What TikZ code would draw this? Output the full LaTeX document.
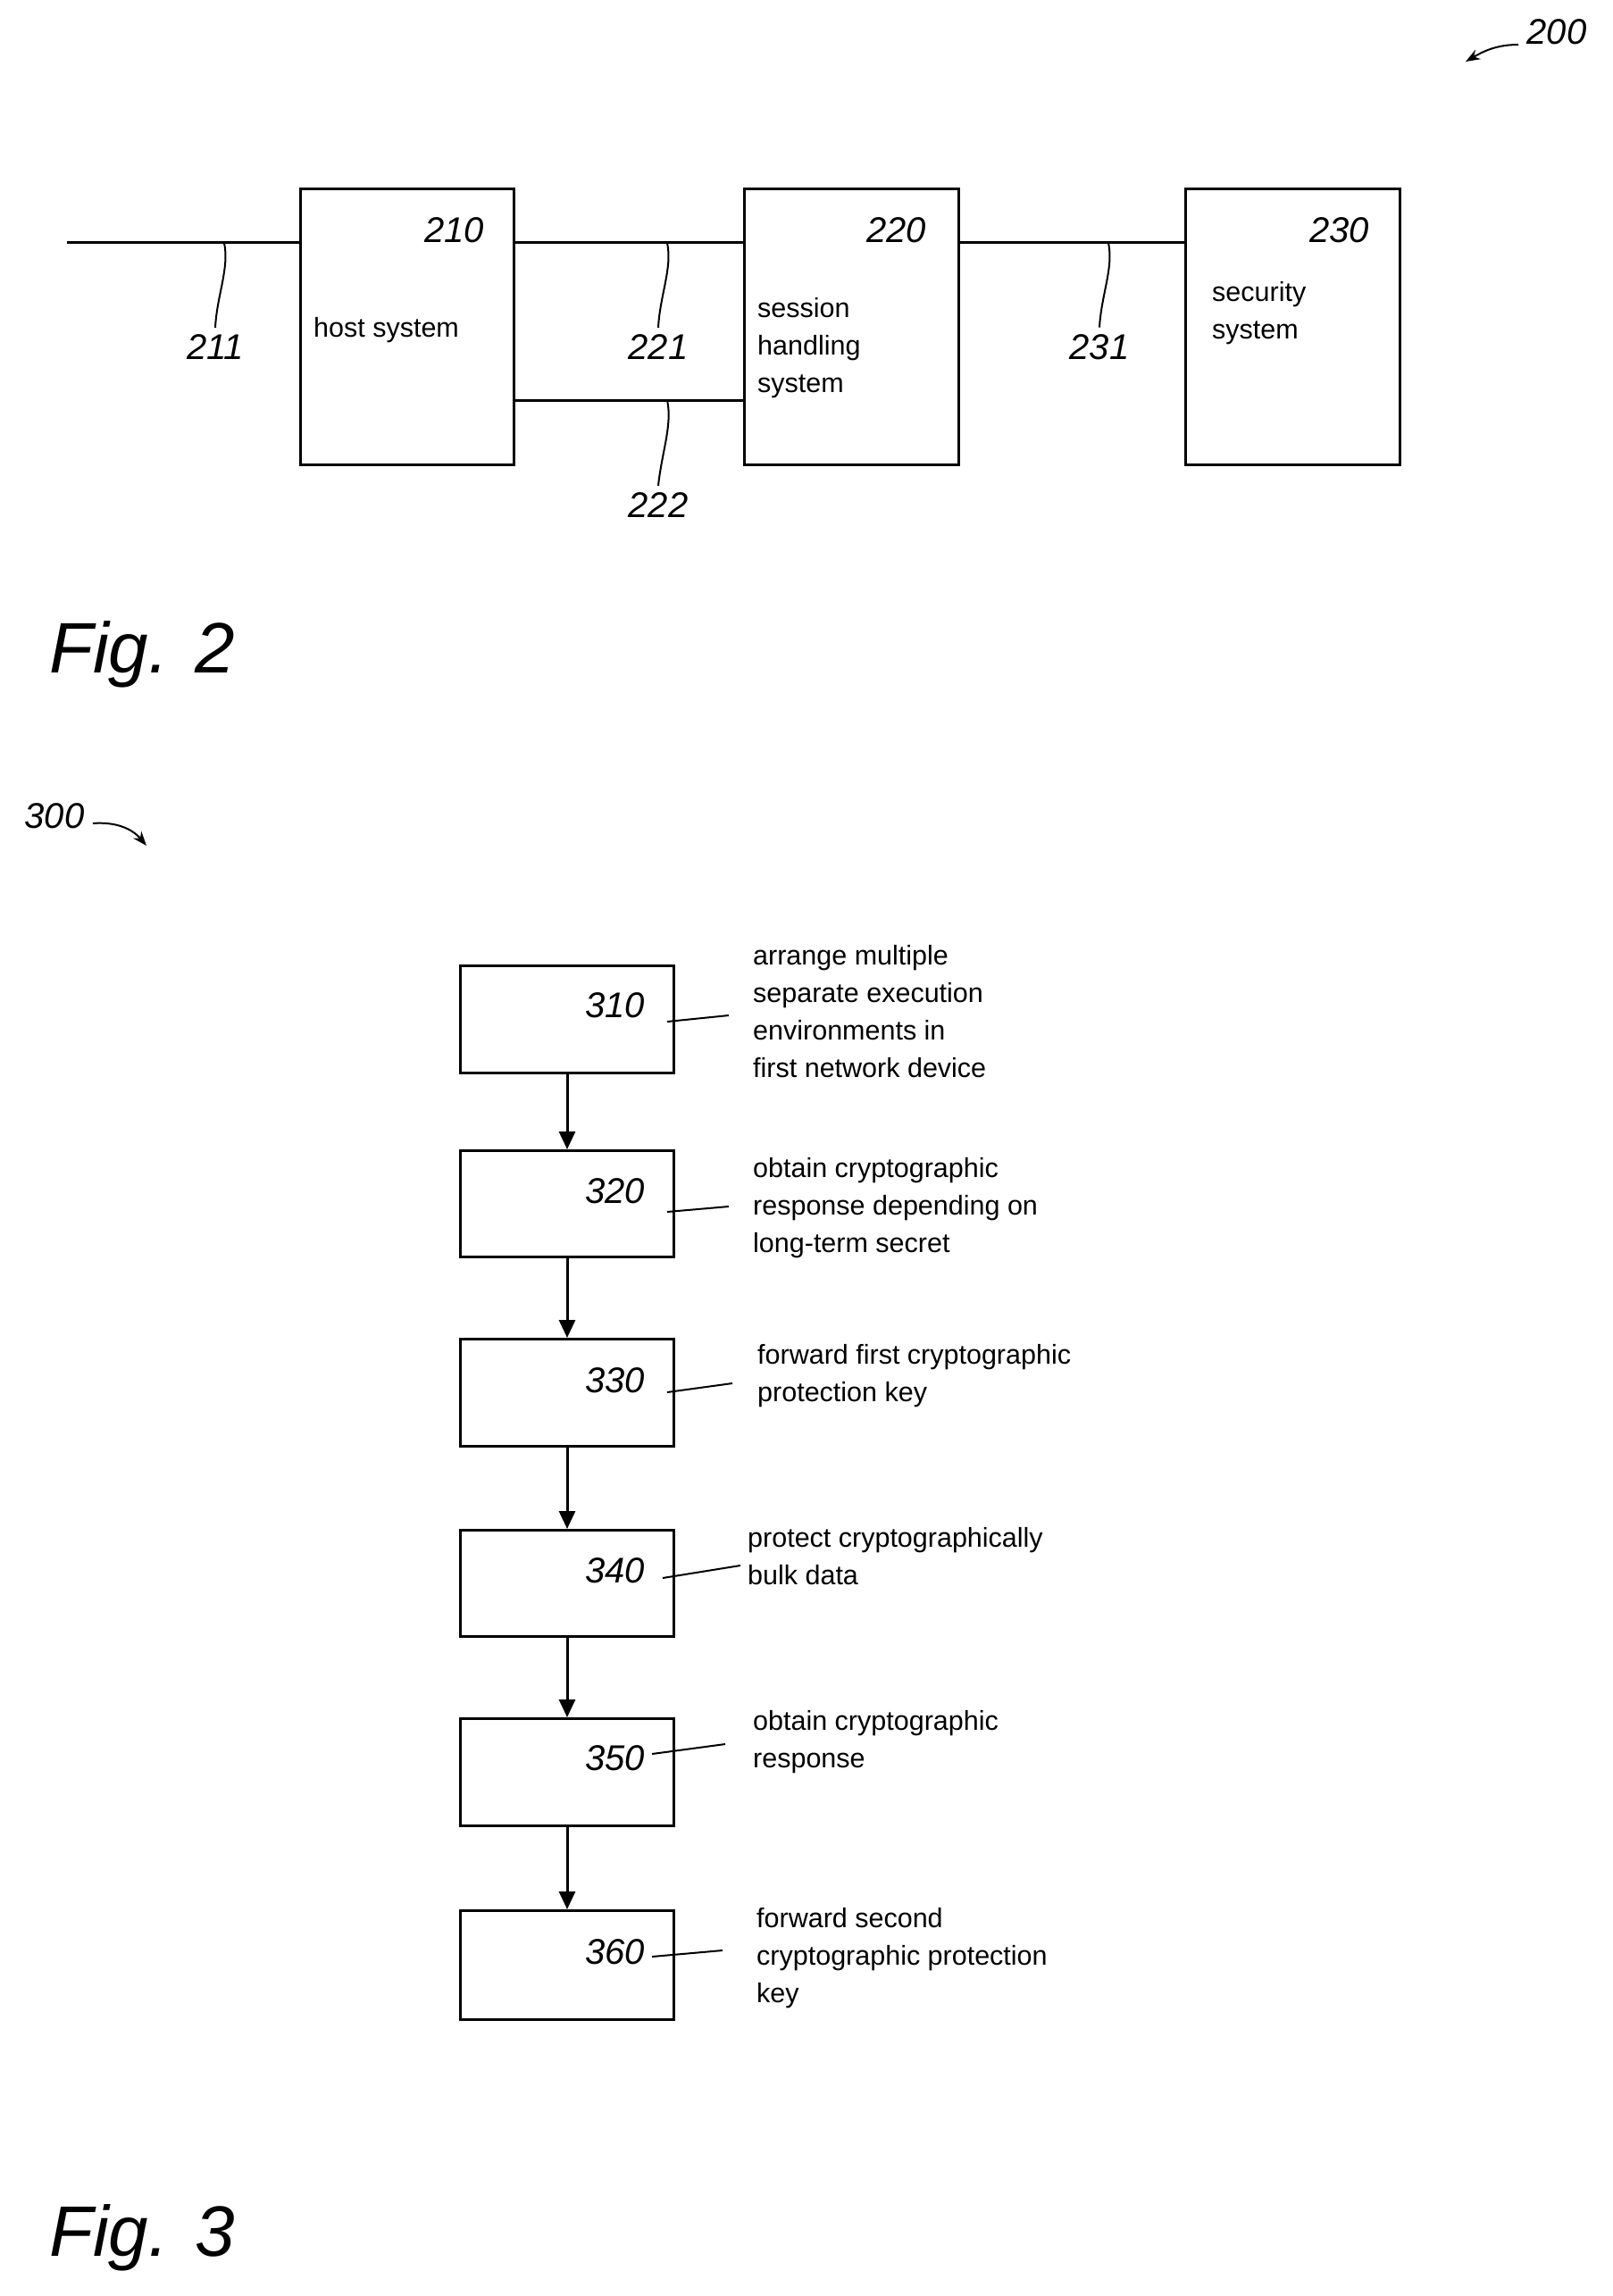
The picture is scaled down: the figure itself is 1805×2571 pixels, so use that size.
\documentclass[tikz,border=0pt]{standalone}
\usepackage{fontspec}
\setmainfont{Liberation Sans}
\usetikzlibrary{arrows.meta}
\begin{document}
\begin{tikzpicture}[x=1pt,y=-1pt,
  box/.style={draw,line width=3pt,inner sep=0pt},
  ln/.style={line width=3pt},
  lead/.style={line width=2pt},
  num/.style={font=\fontsize{40}{40}\selectfont\itshape,inner sep=0pt},
  txt/.style={font=\fontsize{30.5}{42}\selectfont,align=left,inner sep=0pt,anchor=north west},
  fig/.style={font=\fontsize{80}{80}\selectfont\itshape,inner sep=0pt},
  arr/.style={line width=3pt,-{Triangle[length=20pt,width=18pt]}}]
\useasboundingbox (0,0) rectangle (1805,2571);
% Fig 2
\node[box,minimum width=239pt,minimum height=309pt,anchor=north west] (b210) at (335,210) {};
\node[box,minimum width=240pt,minimum height=309pt,anchor=north west] (b220) at (832,210) {};
\node[box,minimum width=240pt,minimum height=309pt,anchor=north west] (b230) at (1326,210) {};
\coordinate (L0) at (75,272);
\draw[ln] (L0) -- (b210.west|-L0);
\draw[ln] (b210.east|-L0) -- (b220.west|-L0);
\draw[ln] (b220.east|-L0) -- (b230.west|-L0);
\coordinate (L2) at (574,448);
\draw[ln] (L2) -- (b220.west|-L2);
\node[num,anchor=east] (n210) at (542,258) {210};
\node[num,anchor=east] (n220) at (1037,258) {220};
\node[num,anchor=east] (n230) at (1533,258) {230};
\node[txt] (t210) at (351,355) {host system};
\node[txt] (t220) at (848,333) {session\\handling\\system};
\node[txt] (t230) at (1357,315) {security\\system};
\node[num] (n211) at (241,389) {211};
\node[num] (n221) at (737,389) {221};
\node[num] (n231) at (1231,389) {231};
\node[num] (n222) at (737,566) {222};
\foreach \x/\n in {251/n211,747/n221,1241/n231}{
  \draw[lead] (\x,272) .. controls (\x+6,300) and (\x-8,330) .. ([yshift=8pt]\n.north);}
\draw[lead] (747,448) .. controls (753,476) and (741,506) .. ([yshift=8pt]n222.north);
\node[num] (n200) at (1743,36) {200};
\coordinate (a200) at (1641,69);
\draw[lead,-{Stealth[length=16pt,width=12pt]}] (1700,50) .. controls (1675,50) and (1660,58) .. (a200);
\node[fig] (f2) at (159,733) {Fig. 2};
% Fig 3
\node[num] (n300) at (61,914) {300};
\coordinate (a300) at (164,947);
\draw[lead,-{Stealth[length=16pt,width=12pt]}] (104,922) .. controls (130,920) and (148,928) .. (a300);
\foreach \i/\t/\b in {310/1080/1200,320/1287/1406,330/1498/1618,340/1712/1831,350/1923/2043,360/2138/2260}{
  \node[box,minimum width=239pt,minimum height=\b-\t,anchor=north west] (s\i) at (514,\t) {};}
\foreach \a/\b in {310/320,320/330,330/340,340/350,350/360}{
  \draw[arr] (s\a.south) -- (s\b.north);}
\node[num,anchor=east] (m310) at (722,1126) {310};
\node[num,anchor=east] (m320) at (722,1334) {320};
\node[num,anchor=east] (m330) at (722,1546) {330};
\node[num,anchor=east] (m340) at (722,1759) {340};
\node[num,anchor=east] (m350) at (722,1969) {350};
\node[num,anchor=east] (m360) at (722,2186) {360};
\node[txt] (d310) at (843,1058) {arrange multiple\\separate execution\\environments in\\first network device};
\node[txt] (d320) at (843,1296) {obtain cryptographic\\response depending on\\long-term secret};
\node[txt] (d330) at (848,1505) {forward first cryptographic\\protection key};
\node[txt] (d340) at (837,1710) {protect cryptographically\\bulk data};
\node[txt] (d350) at (843,1915) {obtain cryptographic\\response};
\node[txt] (d360) at (847,2136) {forward second\\cryptographic protection\\key};
\draw[lead] (747,1144) -- (816,1137);
\draw[lead] (747,1357) -- (816,1351);
\draw[lead] (747,1559) -- (820,1549);
\draw[lead] (742,1767) -- (829,1753);
\draw[lead] (730,1964) -- (812,1953);
\draw[lead] (730,2191) -- (809,2184);
\node[fig] (f3) at (159,2506) {Fig. 3};
\end{tikzpicture}
\end{document}
